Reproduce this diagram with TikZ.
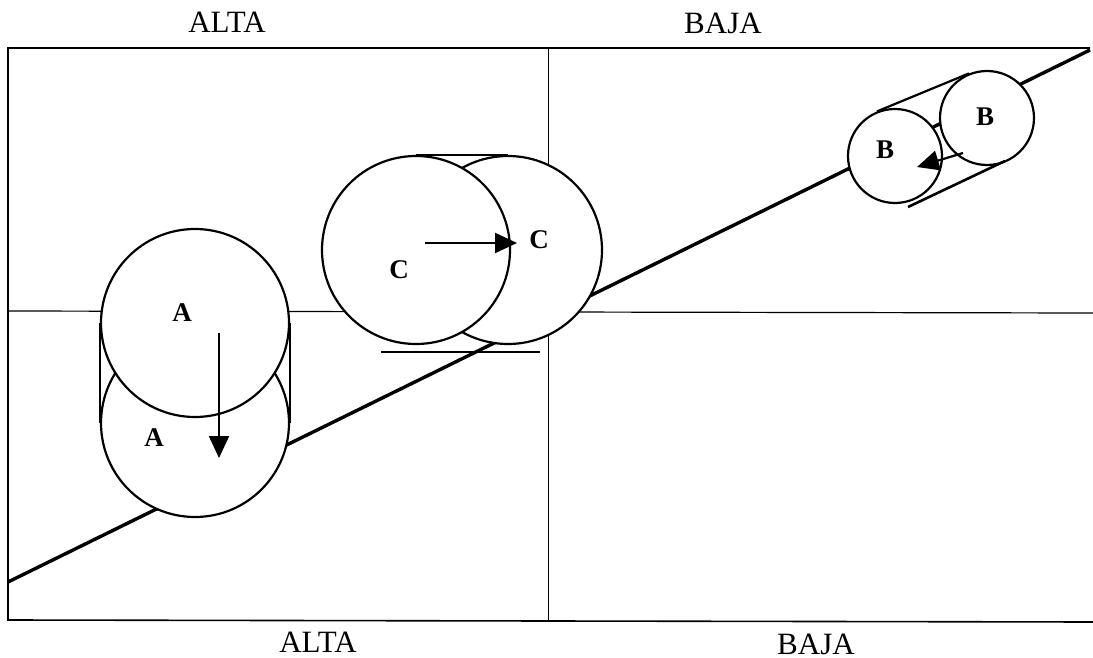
\documentclass[tikz,border=0pt]{standalone}
\usepackage{fontspec}
\setmainfont{Liberation Serif}
\usetikzlibrary{arrows.meta}

\begin{document}
\begin{tikzpicture}[x=0.5pt, y=-0.5pt, >={Triangle[length=11pt, width=10pt]}, line width=1.1pt,
		rodillo/.style={draw, circle, fill=white, inner sep=0pt},
		letra/.style={font=\fontsize{13.5}{15}\selectfont\bfseries},
		titulo/.style={font=\fontsize{15.5}{18}\selectfont}]
	\useasboundingbox (0,0) rectangle (1093,658);
	
	% marco y cuadrantes
	\draw[line width=0.8pt] (1090,48) -- (8,48) -- (8,620) -- (1093,622);
	\draw[line width=0.5pt] (548,48) -- (548,621);
	\draw[line width=0.6pt] (8,311) -- (1093,313);
	% recta
	\draw[line width=1.7pt] (8,582) -- (1090,50);
	
	% rodillos A
	\node[rodillo, minimum size=94pt] (A2) at (195,423) {};
	\node[rodillo, minimum size=94pt] (A1) at (195,323) {};
	\draw (A1.west) -- (A2.west) (A1.east) -- (A2.east);
	\coordinate (a0) at (219,333);
	\coordinate (a1) at (219,458);
	\draw[->] (a0) -- (a1);
	\node[letra] (la1) at (182,313) {A};
	\node[letra] (la2) at (154,438) {A};
	
	% rodillos C
	\node[rodillo, minimum size=94pt] (C2) at (508,250) {};
	\node[rodillo, minimum size=94pt] (C1) at (416,250) {};
	\draw (C1.north) -- (C2.north);
	\draw[line width=1.2pt] (381,352) -- (540,352);
	\coordinate (c0) at (425,243);
	\coordinate (c1) at (517,243);
	\draw[->] (c0) -- (c1);
	\node[letra] (lc1) at (399,270) {C};
	\node[letra] (lc2) at (539,240) {C};
	
	% rodillos B
	\node[rodillo, minimum size=47pt] (B2) at (987,118) {};
	\node[rodillo, minimum size=47pt] (B1) at (895,156) {};
	\draw (B1.112) -- (B2.112);
	\draw[line width=1.3pt] (908,207) -- (1005,161);
	\coordinate (b0) at (963,153);
	\coordinate (b1) at (917,167);
	\draw[->] (b0) -- (b1);
	\node[letra] (lb1) at (885,150) {B};
	\node[letra] (lb2) at (985,117) {B};
	
	% textos
	\node[titulo] (t1) at (227,22) {ALTA};
	\node[titulo] (t2) at (723,23) {BAJA};
	\node[titulo] (t3) at (318,642) {ALTA};
	\node[titulo] (t4) at (816,644) {BAJA};
\end{tikzpicture}
\end{document}
